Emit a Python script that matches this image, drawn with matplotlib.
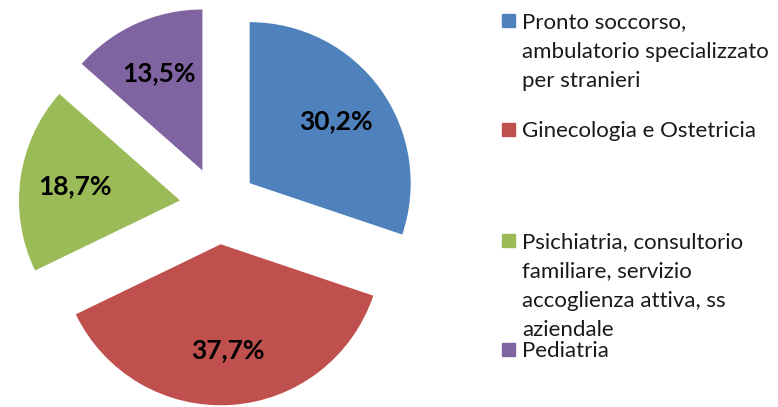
import matplotlib
matplotlib.use("Agg")
import matplotlib.pyplot as plt

categories = [
    "Pronto soccorso,\nambulatorio specializzato\nper stranieri",
    "Ginecologia e Ostetricia",
    "Psichiatria, consultorio\nfamiliare, servizio\naccoglienza attiva, ss\naziendale",
    "Pediatria",
]
values = [30.2, 37.7, 18.7, 13.5]
value_labels = ["30,2%", "37,7%", "18,7%", "13,5%"]
colors = ["#4F81BD", "#C0504D", "#9BBB59", "#8064A2"]

plt.rcParams["font.family"] = ["Lato", "DejaVu Sans"]

W, H = 778, 407
fig = plt.figure(figsize=(W / 100, H / 100), dpi=100)

# pie axes: square box centred on the un-exploded pie centre
cx, cy, r_px, half = 218.3, 205.7, 161.0, 200.0
ax = fig.add_axes([(cx - half) / W, (H - cy - half) / H, 2 * half / W, 2 * half / H])
wedges, texts = ax.pie(
    values,
    colors=colors,
    startangle=90,
    counterclock=False,
    explode=[0.24] * len(values),
    labels=value_labels,
    labeldistance=0.66,
    textprops=dict(fontsize=19, fontweight="bold", color="black", ha="center", va="center"),
)
lim = half / r_px
ax.set_xlim(-lim, lim)
ax.set_ylim(-lim, lim)

# legend, drawn by hand to follow the original spacing
legend_baseline = [28, 137, 248, 357]
line_step = 29.5
for label, col, y in zip(categories, colors, legend_baseline):
    fig.patches.append(plt.Rectangle((502 / W, (H - y + 1) / H), 13 / W, 13 / H,
                                     transform=fig.transFigure, color=col))
    for i, line in enumerate(label.split("\n")):
        fig.text(522 / W, (H - y - i * line_step) / H, line, fontsize=16,
                 color="#1a1a1a", ha="left", va="baseline")

fig.savefig("out.png", dpi=100)
